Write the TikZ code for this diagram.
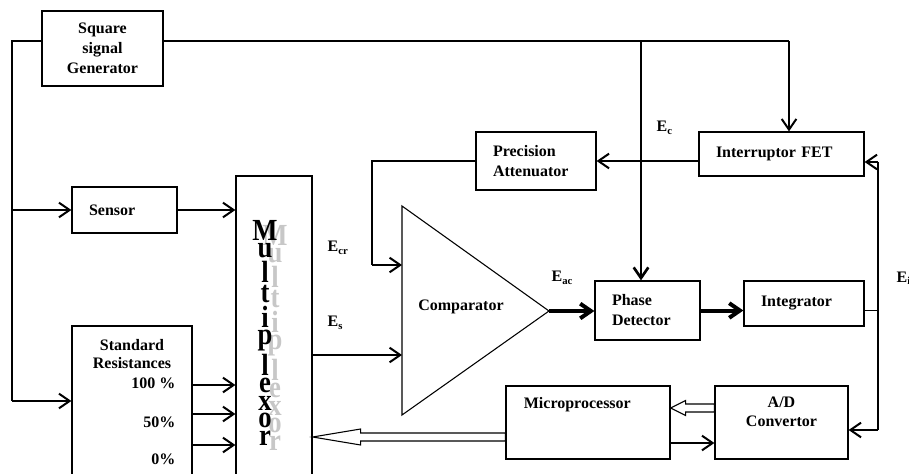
\documentclass[tikz,border=0pt]{standalone}
\usepackage{fontspec}
\setmainfont{Liberation Serif}
\usetikzlibrary{arrows.meta, calc}

% hollow (double line) arrow: tail, tip, head length, head half width, shaft half width
\newcommand{\hollowarrow}[5]{%
  \draw[line width=0.8pt, fill=white] (#2) -- ++(#3,-#4) -- ++(0,#4-#5)
    -- ($(#2 -| #1)+(0,-#5)$) -- ($(#2 -| #1)+(0,#5)$)
    -- ($(#2)+(#3,#5)$) -- ++(0,#4-#5) -- cycle;}
\newcommand{\muxword}{\scalebox{1}[1.15]{\shortstack{M\\[-1pt]u\\[-1pt]l\\[-1pt]t\\[-1pt]i\\[-1pt]p\\[-1pt]l\\[-1pt]e\\[-1pt]x\\[-1pt]o\\[-1pt]r}}}

\begin{document}
\begin{tikzpicture}[
    x=0.75pt, y=-0.75pt,
    box/.style={draw, line width=0.9pt, font=\fontsize{12}{15}\selectfont\bfseries,
                inner xsep=12.75pt, inner ysep=0pt, align=left},
    txt/.style={font=\fontsize{12}{14}\selectfont\bfseries, inner sep=1pt, align=center},
    wire/.style={line width=0.8pt},
    arrow/.style={line width=1.5pt, -{Straight Barb[length=8pt, width=11pt]}},
    bigarrow/.style={arrow, line width=3pt},
    muxtext/.style={font=\fontsize{20}{20}\selectfont\bfseries, inner sep=0pt}
]
\clip (0,0) rectangle (909,474);
\useasboundingbox (0,0) rectangle (909,474);

% Blocks
\node[box, align=center, text width=65.25pt, minimum height=56.25pt] (sqgen) at (102.5,48.5) {Square\\ signal\\ Generator};
\node[box, text width=53.25pt, minimum height=34.5pt] (sensor) at (124.5,210) {Sensor};
\node[box, minimum width=57pt, minimum height=225pt] (mux) at (274,326) {};
\node[box, minimum width=90pt, minimum height=112.5pt] (stdres) at (132,401) {};
\node[box, text width=64.5pt, minimum height=43.5pt] (atten) at (536,161) {Precision\\ Attenuator};
\node[box, text width=98.25pt, minimum height=33pt] (fet) at (781.5,154) {Interruptor FET};
\node[box, text width=53.25pt, minimum height=44.25pt] (phdet) at (647.5,310.5) {Phase\\ Detector};
\node[box, text width=64.5pt, minimum height=33.75pt] (integ) at (804,303.5) {Integrator};
\node[box, minimum width=123pt, minimum height=54.75pt,
      label={[txt, anchor=north, xshift=-8pt, yshift=-7.5pt]north:Microprocessor}] (micro) at (588,422.5) {};
\node[box, minimum width=99.75pt, minimum height=54.75pt,
      label={[txt, anchor=north, yshift=-7.5pt]north:A/D\\ Convertor}] (ad) at (781.5,422.5) {};

% Standard resistances texts
\node[txt] (stdtitle) at (132,354) {Standard\\ Resistances};
\node[txt, anchor=east] (p100) at (177,383) {100 \%};
\node[txt, anchor=east] (p50) at (177,422) {50\%};
\node[txt, anchor=east] (p0) at (177,459) {0\%};

% Multiplexor lettering with shadow
\node[muxtext, text=black!22] (muxshadow) at (275,338) {\muxword};
\node[muxtext] (muxlabel) at (265,333) {\muxword};

% Comparator
\coordinate (cmptop) at (402,206);
\coordinate (cmpbot) at (402,415);
\coordinate (cmpout) at (549,311);
\coordinate (cmpin1) at (402,265);
\coordinate (cmpin2) at (402,355);
\draw[wire] (cmptop) -- (cmpout) -- (cmpbot) -- cycle;
\node[txt] (cmplab) at (461,307) {Comparator};

% Signal labels
\node[txt, anchor=west] (ecr) at (326,248) {E\textsubscript{cr}};
\node[txt, anchor=west] (es) at (326,323) {E\textsubscript{s}};
\node[txt, anchor=west] (eac) at (550,278) {E\textsubscript{ac}};
\node[txt, anchor=west] (ec) at (655,128) {E\textsubscript{c}};
\node[txt, anchor=west] (ei) at (895,278) {E\textsubscript{i}};

% Square signal distribution
\coordinate (sqleft) at (12,41);
\coordinate (sqfet) at (789,41);
\coordinate (sqph) at (641,41);
\draw[wire, line width=1pt] (sqgen.west |- sqleft) -- (sqleft) -- (sqleft |- stdres.west);
\draw[arrow] (sqleft |- stdres.west) -- (stdres.west);
\draw[arrow] (sqleft |- sensor.west) -- (sensor.west);
\draw[wire] (sqgen.east |- sqfet) -- (sqfet);
\draw[arrow] (sqfet) -- (sqfet |- fet.north);
\draw[arrow, line width=2pt] (sqph) -- (sqph |- phdet.north);

% Inputs to multiplexor and comparator
\draw[arrow] (sensor.east) -- (mux.west |- sensor.east);
\foreach \dy in {-16,13,44}
  \draw[arrow] ($(stdres.east)+(0,\dy)$) -- ($(mux.west |- stdres.east)+(0,\dy)$);
\draw[arrow] (mux.east |- cmpin2) -- (cmpin2);
\coordinate (attbend) at (372,265);
\draw[wire] (atten.west) -| (attbend);
\draw[arrow] (attbend) -- (cmpin1);
\draw[arrow] (fet.west |- atten.east) -- (atten.east);

% Detection chain
\draw[bigarrow] (cmpout) -- (cmpout -| phdet.west);
\draw[bigarrow] (phdet.east) -- (phdet.east -| integ.west);

% Feedback E_i
\coordinate (fbtop) at (878,162);
\coordinate (fbbot) at (878,430);
\draw[wire] (integ.east |- phdet.east) -- (phdet.east -| fbtop);
\draw[wire] (fbtop) -- (fbbot);
\draw[arrow] (fbtop) -- (fbtop -| fet.east);
\draw[arrow] (fbbot) -- (fbbot -| ad.east);

% Microprocessor links
\draw[arrow] ($(micro.east)+(0,20.5)$) -- ($(ad.west |- micro.east)+(0,20.5)$);
\coordinate (adout) at ($(ad.west)+(0,-14.5)$);
\coordinate (microin) at (adout -| micro.east);
\hollowarrow{adout}{microin}{15}{7.5}{4}
\coordinate (microout) at ($(micro.west)+(0,14.5)$);
\coordinate (muxin) at (microout -| mux.east);
\hollowarrow{microout}{muxin}{48}{8}{4}
\end{tikzpicture}
\end{document}
